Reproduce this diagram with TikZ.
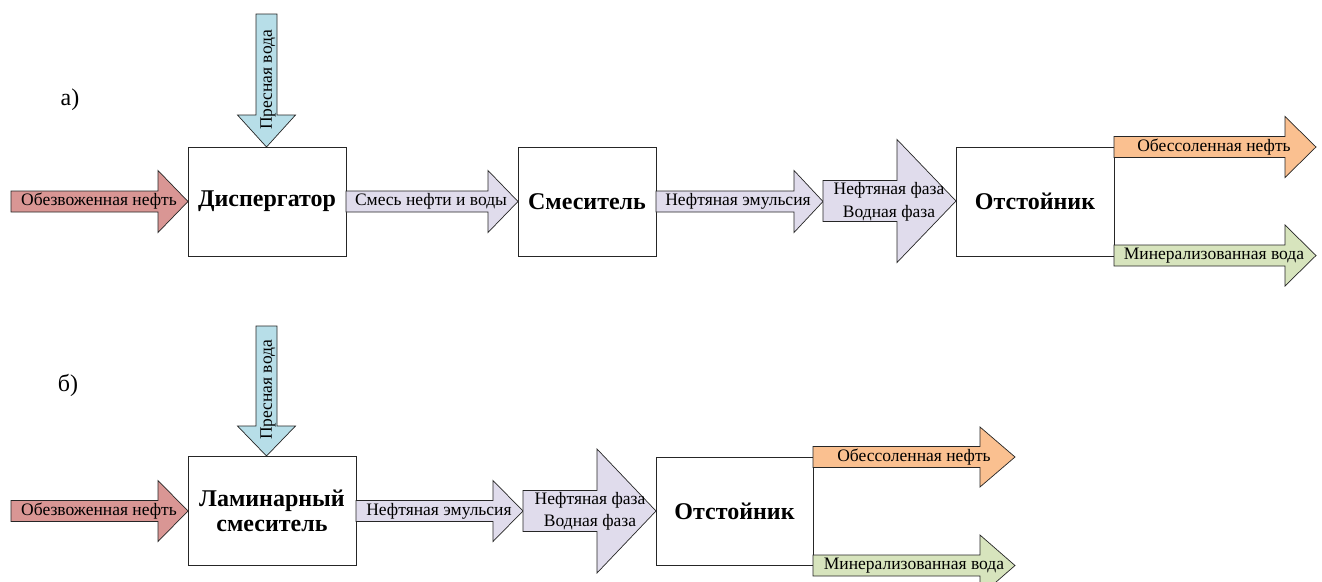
\documentclass[tikz,border=0pt]{standalone}
\usepackage{fontspec}
\setmainfont{Liberation Serif}
\definecolor{cpink}{RGB}{217,150,148}
\definecolor{clil}{RGB}{224,220,236}
\definecolor{cblue}{RGB}{183,222,232}
\definecolor{corange}{RGB}{250,192,144}
\definecolor{cgreen}{RGB}{215,228,189}
\newcommand\myharrow[7]{%
  \draw[arr,fill=#7] (#1,#4-#5) -- (#2,#4-#5) -- (#2,#4-#6) -- (#3,#4) -- (#2,#4+#6) -- (#2,#4+#5) -- (#1,#4+#5) -- cycle;}
\newcommand\myvarrow[7]{%
  \draw[arr,fill=#7] (#4-#5,#1) -- (#4-#5,#2) -- (#4-#6,#2) -- (#4,#3) -- (#4+#6,#2) -- (#4+#5,#2) -- (#4+#5,#1) -- cycle;}
\begin{document}
\begin{tikzpicture}[x=1pt,y=-1pt,
  arr/.style={draw=black!85,line width=0.7pt},
  box/.style={draw=black!85,line width=0.9pt,fill=white},
  btext/.style={font=\fontsize{24}{28}\selectfont\bfseries,align=center},
  atext/.style={font=\fontsize{17.5}{20}\selectfont,inner sep=0pt,align=center},
  lbl/.style={font=\fontsize{24}{28}\selectfont,inner sep=0pt}]
\useasboundingbox (0,0) rectangle (1322,581);
\clip (0,0) rectangle (1322,581);
% ---------- panel a ----------
\node[lbl] (la) at (70,100) {а)};
\draw[box] (188,147) rectangle (346,256);
\node[btext] (disp) at (267,201.5) {Диспергатор};
\draw[box] (518,147) rectangle (656,256);
\node[btext] (smes) at (587,201.5) {Смеситель};
\draw[box] (956,147) rectangle (1114,256);
\node[btext] (otsa) at (1035,201.5) {Отстойник};
\myvarrow{14}{115}{147}{266.5}{10.5}{29}{cblue}
\node[atext,rotate=90] (pva) at (268,80) {Пресная вода};
\myharrow{11}{158}{188}{201.5}{10.5}{31}{cpink}
\node[atext] (oba) at (99,201.5) {Обезвоженная нефть};
\myharrow{346}{488}{518}{201.5}{10.5}{31}{clil}
\node[atext] (snv) at (431,201.5) {Смесь нефти и воды};
\myharrow{656}{794}{823}{201.5}{10.5}{31}{clil}
\node[atext] (nea) at (738,201.5) {Нефтяная эмульсия};
\myharrow{823}{897}{956}{201}{20.5}{61.5}{clil}
\node[atext] (nfa) at (889,190) {Нефтяная фаза};
\node[atext] (vfa) at (889,213) {Водная фаза};
\myharrow{1114}{1285}{1316}{147}{10.5}{30.5}{corange}
\node[atext] (ona) at (1214,147) {Обессоленная нефть};
\myharrow{1114}{1285}{1316}{255.5}{10.5}{30.5}{cgreen}
\node[atext] (mva) at (1214,256) {Минерализованная вода};
% ---------- panel b ----------
\node[lbl] (lb) at (68,385) {б)};
\draw[box] (188,456) rectangle (356,565);
\node[btext] (lam) at (272,510.5) {Ламинарный\\[-3pt]смеситель};
\draw[box] (656,457) rectangle (813,565);
\node[btext] (otsb) at (734.5,511) {Отстойник};
\myvarrow{326}{426}{456}{266.5}{10.5}{29}{cblue}
\node[atext,rotate=90] (pvb) at (268,390) {Пресная вода};
\myharrow{11}{158}{188}{511}{10.5}{30.5}{cpink}
\node[atext] (obb) at (99,511) {Обезвоженная нефть};
\myharrow{356}{493}{523}{511}{10.5}{30.5}{clil}
\node[atext] (neb) at (439,511) {Нефтяная эмульсия};
\myharrow{523}{597}{656}{511}{20.5}{62}{clil}
\node[atext] (nfb) at (590,500) {Нефтяная фаза};
\node[atext] (vfb) at (590,522) {Водная фаза};
\myharrow{813}{980}{1015}{457}{10.5}{30}{corange}
\node[atext] (onb) at (914,457) {Обессоленная нефть};
\myharrow{813}{980}{1015}{565.5}{10.5}{30.5}{cgreen}
\node[atext] (mvb) at (914,566) {Минерализованная вода};
\end{tikzpicture}
\end{document}
